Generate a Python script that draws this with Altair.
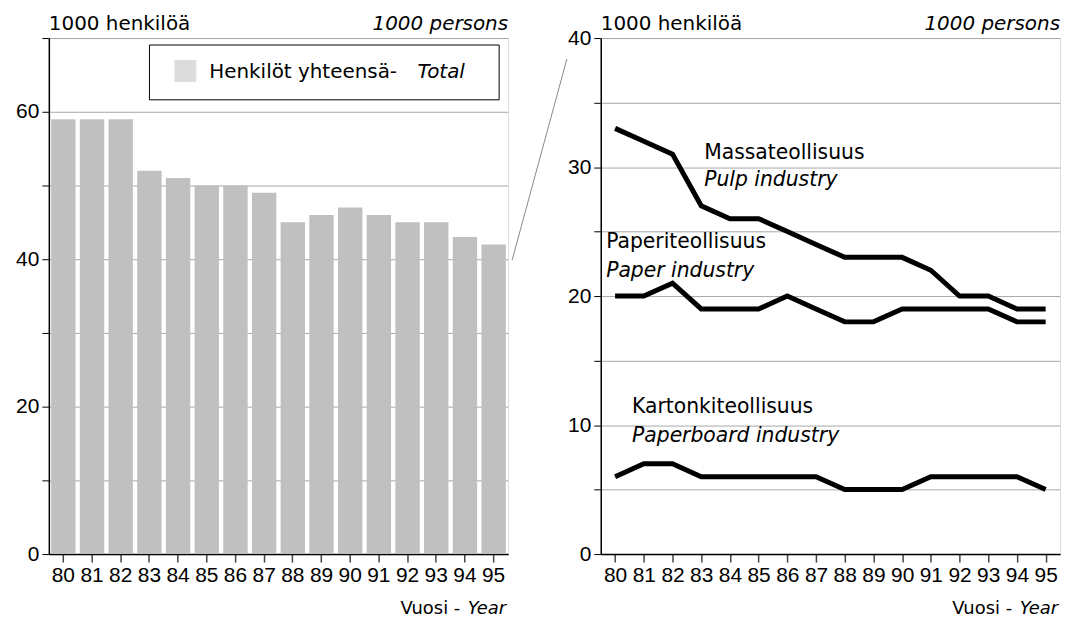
import altair as alt
import pandas as pd

# ---- data ----
years = ["80", "81", "82", "83", "84", "85", "86", "87",
         "88", "89", "90", "91", "92", "93", "94", "95"]
total = [59, 59, 59, 52, 51, 50, 50, 49, 45, 46, 47, 46, 45, 45, 43, 42]
pulp = [33, 32, 31, 27, 26, 26, 25, 24, 23, 23, 23, 22, 20, 20, 19, 19]
paper = [20, 20, 21, 19, 19, 19, 20, 19, 18, 18, 19, 19, 19, 19, 18, 18]
board = [6, 7, 7, 6, 6, 6, 6, 6, 5, 5, 5, 6, 6, 6, 6, 5]

FONT = "DejaVu Sans"
TFONT = "Liberation Sans"
W = 461
H = 518

df_total = pd.DataFrame({"year": years, "value": total})
df_lines = pd.DataFrame({
    "year": years * 3,
    "value": pulp + paper + board,
    "series": ["Massateollisuus"] * 16 + ["Paperiteollisuus"] * 16 + ["Kartonkiteollisuus"] * 16,
})
one = pd.DataFrame({"a": [0]})


def header_layers():
    left = alt.Chart(one).mark_text(text="1000 henkilöä", align="left", baseline="alphabetic",
                                    font=FONT, fontSize=20, color="black").encode(
        x=alt.value(0), y=alt.value(-8))
    right = alt.Chart(one).mark_text(text="1000 persons", align="right", baseline="alphabetic",
                                     font=FONT, fontSize=20, fontStyle="italic", color="black").encode(
        x=alt.value(W), y=alt.value(-8))
    t1 = alt.Chart(one).mark_text(text="Vuosi -", align="right", baseline="alphabetic",
                                  font=FONT, fontSize=18, color="black").encode(
        x=alt.value(W - 48), y=alt.value(H + 60))
    t2 = alt.Chart(one).mark_text(text="Year", align="right", baseline="alphabetic",
                                  font=FONT, fontSize=18, fontStyle="italic", color="black").encode(
        x=alt.value(W - 2), y=alt.value(H + 60))
    return [left, right, t1, t2]


x_axis = alt.Axis(title=None, labelAngle=0, labelFont=TFONT, labelFontSize=21, labelColor="black",
                  tickSize=8, tickColor="#444", tickWidth=1.5, domainColor="black", domainWidth=1.5,
                  labelPadding=3, grid=False)

# ---- left: bars ----
bars = alt.Chart(df_total).mark_bar(color="#c0c0c0").encode(
    x=alt.X("year:O", scale=alt.Scale(paddingInner=0.15, paddingOuter=0.08), axis=x_axis),
    y=alt.Y("value:Q", scale=alt.Scale(domain=[0, 70], nice=False),
            axis=alt.Axis(title=None, values=list(range(0, 71, 10)),
                          labelExpr="datum.value % 20 == 0 ? datum.label : ''",
                          labelFont=TFONT, labelFontSize=21, labelColor="black",
                          tickSize=7, tickColor="black", domainColor="black", domainWidth=1.5,
                          labelPadding=3, grid=True, gridColor="#a8a8a8", gridWidth=1,
                          minExtent=32, maxExtent=32)),
)

legend_box = alt.Chart(one).mark_rect(fill="white", stroke="black", strokeWidth=1).encode(
    x=alt.value(101), x2=alt.value(452), y=alt.value(7), y2=alt.value(62))
legend_sw = alt.Chart(one).mark_rect(fill="#dcdcdc").encode(
    x=alt.value(126), x2=alt.value(148), y=alt.value(22), y2=alt.value(44))
legend_t1 = alt.Chart(one).mark_text(text="Henkilöt yhteensä-", align="left", baseline="middle",
                                     font=FONT, fontSize=20, color="black").encode(
    x=alt.value(161), y=alt.value(34))
legend_t2 = alt.Chart(one).mark_text(text="Total", align="left", baseline="middle",
                                     font=FONT, fontSize=20, fontStyle="italic", color="black").encode(
    x=alt.value(370), y=alt.value(34))
connector = alt.Chart(one).mark_rule(color="#888", strokeWidth=1).encode(
    x=alt.value(465), y=alt.value(223), x2=alt.value(520), y2=alt.value(21))

left_chart = alt.layer(bars, legend_box, legend_sw, legend_t1, legend_t2, connector,
                       *header_layers()).properties(width=W, height=H)

# ---- right: lines ----
lines = alt.Chart(df_lines).mark_line(color="black", strokeWidth=5, strokeCap="butt").encode(
    x=alt.X("year:O", scale=alt.Scale(type="point", padding=0.5), axis=x_axis),
    y=alt.Y("value:Q", scale=alt.Scale(domain=[0, 40], nice=False),
            axis=alt.Axis(title=None, values=list(range(0, 41, 5)),
                          labelExpr="datum.value % 10 == 0 ? datum.label : ''",
                          labelFont=TFONT, labelFontSize=21, labelColor="black",
                          tickSize=7, tickColor="black", domainColor="black", domainWidth=1.5,
                          labelPadding=3, grid=True, gridColor="#a8a8a8", gridWidth=1,
                          minExtent=32, maxExtent=32)),
    detail="series:N",
)


def label(text, year, value, dx, italic=False):
    d = pd.DataFrame({"year": [year], "value": [value]})
    kw = dict(text=text, align="left", baseline="alphabetic", font=FONT, fontSize=20.4,
              color="black", dx=dx)
    if italic:
        kw["fontStyle"] = "italic"
    return alt.Chart(d).mark_text(**kw).encode(x="year:O", y="value:Q")


labels = [
    label("Massateollisuus", "83", 30.65, 3),
    label("Pulp industry", "83", 28.55, 3, True),
    label("Paperiteollisuus", "80", 23.7, -9),
    label("Paper industry", "80", 21.45, -9, True),
    label("Kartonkiteollisuus", "80", 10.9, 17),
    label("Paperboard industry", "80", 8.65, 17, True),
]

right_chart = alt.layer(lines, *labels, *header_layers()).properties(width=W, height=H)

chart = alt.hconcat(left_chart, right_chart, spacing=93, bounds="flush").properties(
    padding={"left": 7, "top": 4, "right": 0, "bottom": 0}
).configure_view(stroke="#777", strokeWidth=1.5).configure(background="white")

chart.save("out.html", embed_options={"renderer": "svg", "actions": False})
